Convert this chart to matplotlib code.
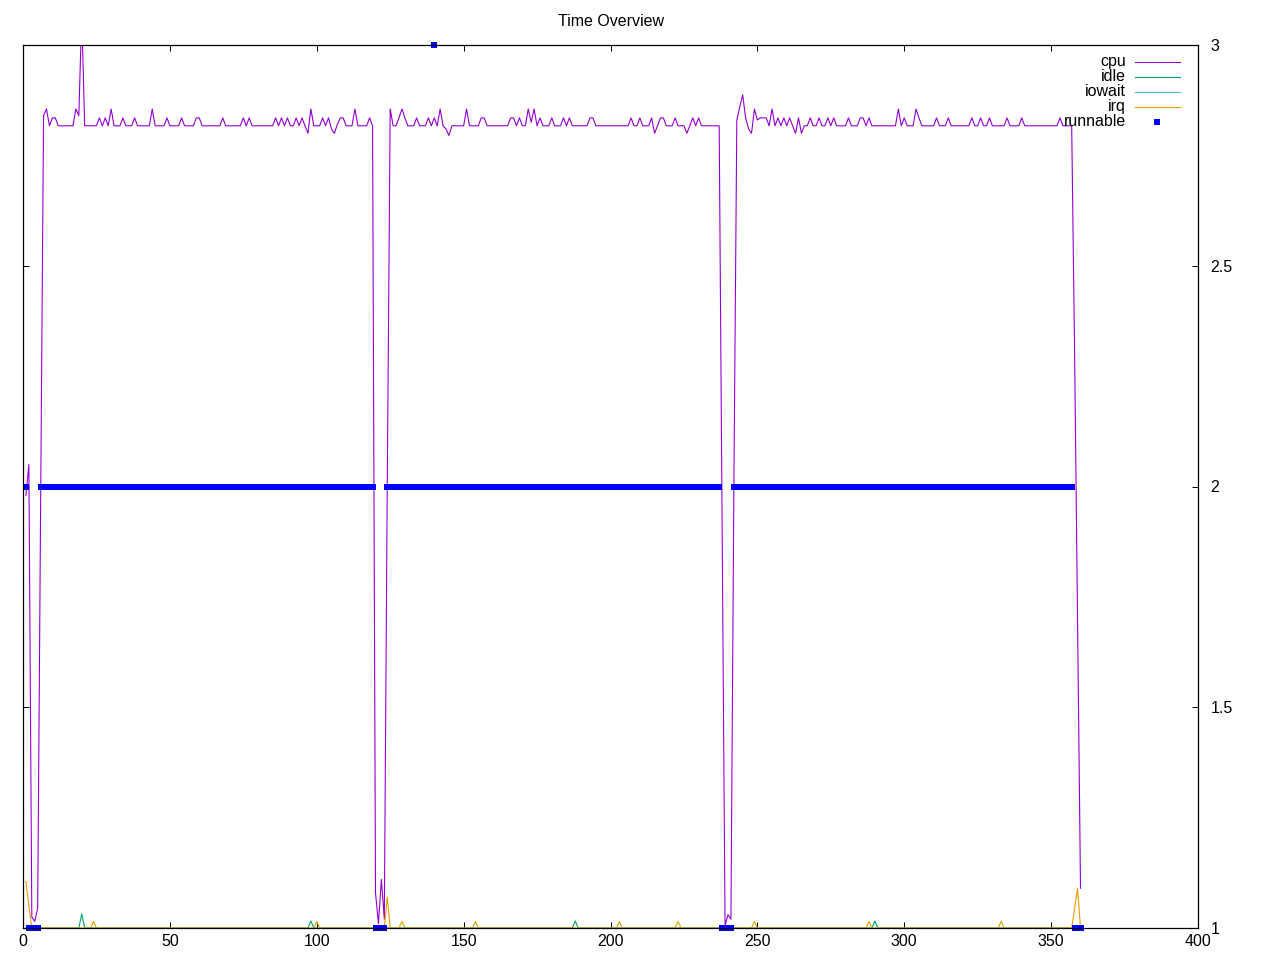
import numpy as np
import matplotlib
matplotlib.use('Agg')
import matplotlib.pyplot as plt
from matplotlib.lines import Line2D

plt.rcParams['font.family'] = ['Liberation Sans', 'DejaVu Sans']

# one sample per second, t = 1..360
t = np.arange(1, 361)

cpu = [
    1.98, 2.05, 1.025, 1.015, 1.045, 1.96, 2.84, 2.855, 2.817, 2.835,
    2.835, 2.817, 2.817, 2.817, 2.817, 2.817, 2.817, 2.855, 2.84, 3.07,
    2.817, 2.817, 2.817, 2.817, 2.817, 2.835, 2.817, 2.835, 2.817, 2.855,
    2.817, 2.817, 2.817, 2.835, 2.817, 2.817, 2.817, 2.835, 2.817, 2.817,
    2.817, 2.817, 2.817, 2.855, 2.817, 2.817, 2.817, 2.817, 2.835, 2.817,
    2.817, 2.817, 2.817, 2.835, 2.817, 2.817, 2.817, 2.817, 2.835, 2.835,
    2.817, 2.817, 2.817, 2.817, 2.817, 2.817, 2.817, 2.835, 2.817, 2.817,
    2.817, 2.817, 2.817, 2.817, 2.835, 2.817, 2.835, 2.817, 2.817, 2.817,
    2.817, 2.817, 2.817, 2.817, 2.817, 2.835, 2.817, 2.835, 2.817, 2.835,
    2.817, 2.817, 2.835, 2.817, 2.835, 2.817, 2.800, 2.855, 2.817, 2.817,
    2.817, 2.835, 2.817, 2.835, 2.810, 2.800, 2.820, 2.835, 2.835, 2.817,
    2.817, 2.817, 2.855, 2.817, 2.817, 2.817, 2.817, 2.835, 2.817, 1.08,
    1.01, 1.11, 1.02, 2.0, 2.855, 2.817, 2.817, 2.835, 2.855, 2.835,
    2.817, 2.817, 2.817, 2.835, 2.817, 2.817, 2.817, 2.835, 2.817, 2.835,
    2.817, 2.855, 2.817, 2.810, 2.795, 2.817, 2.817, 2.817, 2.817, 2.817,
    2.855, 2.817, 2.817, 2.817, 2.817, 2.835, 2.835, 2.817, 2.817, 2.817,
    2.817, 2.817, 2.817, 2.817, 2.817, 2.835, 2.835, 2.817, 2.835, 2.817,
    2.817, 2.855, 2.825, 2.855, 2.817, 2.835, 2.817, 2.817, 2.817, 2.835,
    2.817, 2.817, 2.817, 2.835, 2.817, 2.835, 2.817, 2.817, 2.817, 2.817,
    2.817, 2.817, 2.835, 2.835, 2.817, 2.817, 2.817, 2.817, 2.817, 2.817,
    2.817, 2.817, 2.817, 2.817, 2.817, 2.817, 2.835, 2.817, 2.817, 2.835,
    2.817, 2.817, 2.817, 2.835, 2.800, 2.817, 2.835, 2.835, 2.817, 2.817,
    2.817, 2.835, 2.817, 2.817, 2.817, 2.800, 2.817, 2.835, 2.817, 2.835,
    2.817, 2.817, 2.817, 2.817, 2.817, 2.817, 2.817, 1.9, 1.005, 1.03,
    1.02, 2.0, 2.83, 2.86, 2.887, 2.835, 2.810, 2.800, 2.855, 2.830,
    2.835, 2.835, 2.835, 2.817, 2.855, 2.817, 2.835, 2.817, 2.835, 2.817,
    2.835, 2.817, 2.800, 2.835, 2.800, 2.817, 2.817, 2.835, 2.817, 2.817,
    2.835, 2.817, 2.817, 2.835, 2.817, 2.835, 2.817, 2.817, 2.817, 2.817,
    2.835, 2.817, 2.817, 2.817, 2.835, 2.835, 2.817, 2.835, 2.817, 2.817,
    2.817, 2.817, 2.817, 2.817, 2.817, 2.817, 2.817, 2.855, 2.817, 2.835,
    2.817, 2.817, 2.817, 2.855, 2.835, 2.817, 2.817, 2.817, 2.817, 2.817,
    2.835, 2.817, 2.817, 2.817, 2.835, 2.817, 2.817, 2.817, 2.817, 2.817,
    2.817, 2.817, 2.835, 2.817, 2.817, 2.835, 2.817, 2.817, 2.835, 2.817,
    2.817, 2.817, 2.817, 2.817, 2.835, 2.817, 2.817, 2.817, 2.817, 2.835,
    2.817, 2.817, 2.817, 2.817, 2.817, 2.817, 2.817, 2.817, 2.817, 2.817,
    2.817, 2.817, 2.835, 2.817, 2.817, 2.817, 2.817, 2.3, 1.7, 1.09,
]

# idle / iowait / irq sit at 1 except for a few short blips
base = 1.0
idle_x = [20, 98, 188, 290]
idle_y = [1.032, 1.016, 1.016, 1.016]
irq_x = [1, 2, 24, 100, 124, 129, 154, 203, 223, 249, 288, 333, 358, 359]
irq_y = [1.105, 1.05, 1.015, 1.015, 1.07, 1.015, 1.015, 1.015, 1.015,
         1.015, 1.015, 1.015, 1.045, 1.09]

# runnable as runs of (value, count)
run_vals = [2, 1, 2, 1, 2, 3, 2, 1, 2, 1]
run_lens = [1, 4, 114, 4, 16, 1, 97, 4, 116, 3]

idle = np.full(len(t), base)
idle[np.array(idle_x) - 1] = idle_y
iowait = np.full(len(t), base)
irq = np.full(len(t), base)
irq[np.array(irq_x) - 1] = irq_y
runnable = np.repeat(run_vals, run_lens)

colors = {'cpu': '#9400d3', 'idle': '#009e73', 'iowait': '#56b4e9',
          'irq': '#e69f00', 'runnable': '#0000ff'}

W, H = 1280, 960
fig = plt.figure(figsize=(12.8, 9.6), dpi=100)
ax = fig.add_axes([23 / W, 32 / H, 1175 / W, 883 / H])

lw = 0.8
ax.plot(t, cpu, color=colors['cpu'], lw=lw)
ax.plot(t, idle, color=colors['idle'], lw=lw)
ax.plot(t, iowait, color=colors['iowait'], lw=lw)
ax.plot(t, irq, color=colors['irq'], lw=lw)
ax.plot(t, runnable, 's', color=colors['runnable'], ms=5, mew=0, clip_on=False, zorder=5)

ax.set_xlim(0, 400)
ax.set_ylim(1, 3)
ax.set_xticks(range(0, 401, 50))
ax.set_yticks([1, 1.5, 2, 2.5, 3])
ax.set_yticklabels(['1', '1.5', '2', '2.5', '3'])
ax.tick_params(direction='in', length=4.3, width=0.72, top=True, right=True,
               left=True, labelleft=False, labelright=True, labelsize=11.5,
               colors='black')
ax.tick_params(axis='x', pad=4.5)
ax.tick_params(axis='y', pad=9)
for s in ax.spines.values():
    s.set_linewidth(0.9)
    s.set_zorder(6)

fig.text(610.5 / W, 1 - 21.5 / H, 'Time Overview', ha='center', va='center', fontsize=11.5)

# legend, gnuplot style: right-aligned labels, sample to the right
names = ['cpu', 'idle', 'iowait', 'irq', 'runnable']
rows = [61, 76, 91, 106, 121]
for name, yp in zip(names, rows):
    yf = 1 - (yp + 0.5) / H
    fig.text(1126 / W, yf, name, ha='right', va='center', fontsize=11.5, zorder=7)
    if name == 'runnable':
        fig.add_artist(Line2D([1157 / W], [yf], marker='s', ms=5, mew=0,
                              color=colors[name], linestyle='none'))
    else:
        fig.add_artist(Line2D([1135 / W, 1180 / W], [yf, yf], lw=lw, color=colors[name]))

fig.savefig('out.png', dpi=100)
